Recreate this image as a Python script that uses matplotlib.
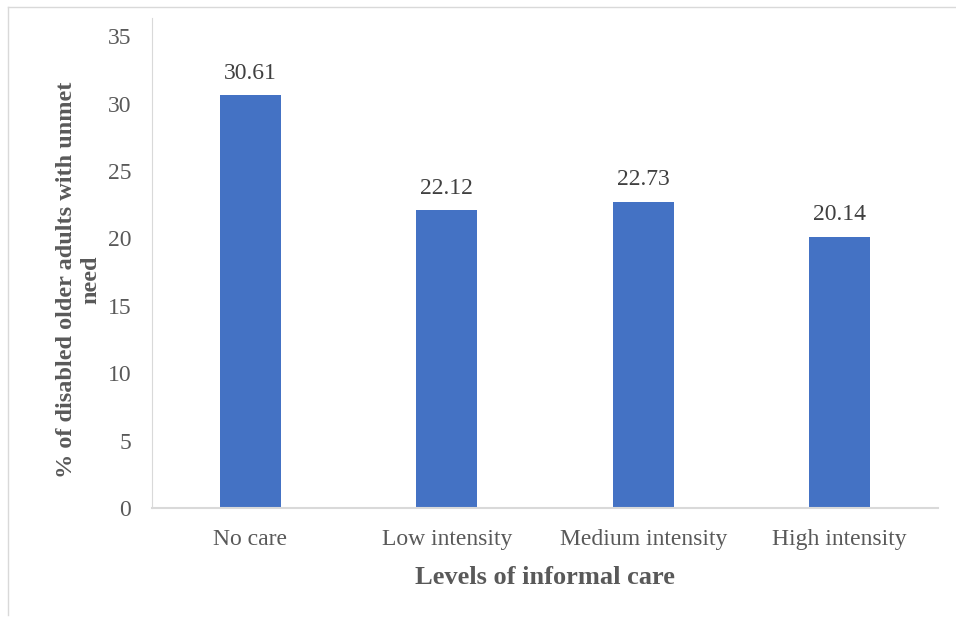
import matplotlib.pyplot as plt
from matplotlib.lines import Line2D

categories = ['No care', 'Low intensity', 'Medium intensity', 'High intensity']
values = [30.61, 22.12, 22.73, 20.14]
yticks = [0, 5, 10, 15, 20, 25, 30, 35]

plt.rcParams['font.family'] = ['Liberation Serif', 'DejaVu Serif']

W, H = 956, 619
fig = plt.figure(figsize=(W / 100, H / 100), dpi=100)

# plot area in pixels: x 152..938, y 18..508
left, right, top, bottom = 152, 938, 18, 508
ax = fig.add_axes([left / W, 1 - bottom / H, (right - left) / W, (bottom - top) / H])

x = range(len(categories))
bars = ax.bar(x, values, width=0.31, color='#4472C4')

ymax = (bottom - top) / 13.48
ax.set_ylim(0, ymax)
ax.set_xlim(-0.5, len(categories) - 0.5)
ax.set_yticks(yticks)
ax.set_xticks(list(x))
ax.set_xticklabels(categories)
ax.tick_params(axis='both', length=0, labelsize=17, labelcolor='#595959')
ax.tick_params(axis='y', pad=15)
ax.tick_params(axis='x', pad=15)

for s in ['top', 'right']:
    ax.spines[s].set_visible(False)
ax.spines['left'].set_color('#D9D9D9')
ax.spines['bottom'].set_color('#D9D9D9')
ax.spines['bottom'].set_linewidth(1.5)

for b, v in zip(bars, values):
    ax.annotate('%.2f' % v, (b.get_x() + b.get_width() / 2, v), xytext=(0, 8),
                textcoords='offset points', ha='center', va='bottom',
                fontsize=17, color='#404040')

ax.set_xlabel('Levels of informal care', fontsize=19, fontweight='bold',
              color='#595959', labelpad=12)
ax.set_ylabel('% of disabled older adults with unmet\nneed', fontsize=17.5,
              fontweight='bold', color='#595959', linespacing=1.2)
ax.yaxis.set_label_coords(-0.064, 0.465)

# outer border (top and left visible)
fig.add_artist(Line2D([8 / W, 8 / W], [1 - 7 / H, 1 - 615 / H], color='#D9D9D9', lw=1))
fig.add_artist(Line2D([8 / W, 1], [1 - 7 / H, 1 - 7 / H], color='#D9D9D9', lw=1))

fig.savefig('out.png', dpi=100)
